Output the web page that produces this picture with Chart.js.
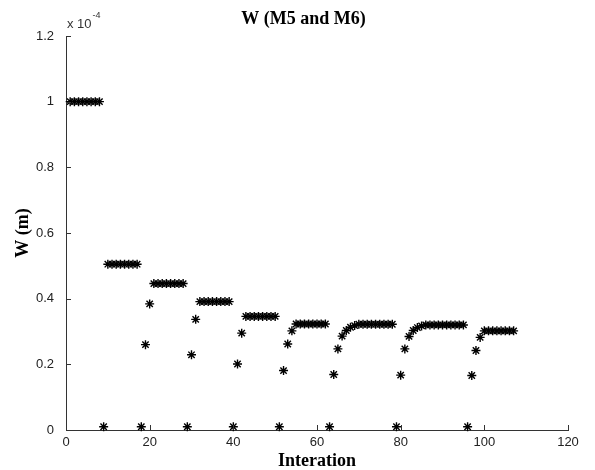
<!DOCTYPE html>
<html>
<head>
<meta charset="utf-8">
<title>W (M5 and M6)</title>
<script src="https://cdn.jsdelivr.net/npm/chart.js@4/dist/chart.umd.min.js"></script>
<style>
  html, body { margin: 0; padding: 0; background: #fff; }
  #wrap { width: 595px; height: 470px; }
</style>
</head>
<body>
<div id="wrap"><canvas id="wChart" width="595" height="470"></canvas></div>
<script>
// Iteration numbers (x) and W values in units of 1e-4 m (y)
const iterations = [
  1, 2, 3, 4, 5, 6, 7, 8, 9, 10,
  11, 12, 13, 14, 15, 16, 17, 18, 19, 20,
  21, 22, 23, 24, 25, 26, 27, 28, 29, 30,
  31, 32, 33, 34, 35, 36, 37, 38, 39, 40,
  41, 42, 43, 44, 45, 46, 47, 48, 49, 50,
  51, 52, 53, 54, 55, 56, 57, 58, 59, 60,
  61, 62, 63, 64, 65, 66, 67, 68, 69, 70,
  71, 72, 73, 74, 75, 76, 77, 78, 79, 80,
  81, 82, 83, 84, 85, 86, 87, 88, 89, 90,
  91, 92, 93, 94, 95, 96, 97, 98, 99, 100,
  101, 102, 103, 104, 105, 106, 107
];
const wValues = [
  1.0, 1.0, 1.0, 1.0, 1.0, 1.0, 1.0, 1.0, 0.01, 0.505,          // 1-10
  0.505, 0.505, 0.505, 0.505, 0.505, 0.505, 0.505, 0.01, 0.26, 0.384, // 11-20
  0.446, 0.446, 0.446, 0.446, 0.446, 0.446, 0.446, 0.446, 0.01, 0.229, // 21-30
  0.337, 0.391, 0.391, 0.391, 0.391, 0.391, 0.391, 0.391, 0.391, 0.01, // 31-40
  0.201, 0.295, 0.346, 0.346, 0.346, 0.346, 0.346, 0.346, 0.346, 0.346, // 41-50
  0.01, 0.181, 0.262, 0.302, 0.323, 0.323, 0.323, 0.323, 0.323, 0.323, // 51-60
  0.323, 0.323, 0.01, 0.169, 0.247, 0.286, 0.303, 0.313, 0.318, 0.322, // 61-70
  0.322, 0.322, 0.322, 0.322, 0.322, 0.322, 0.322, 0.322, 0.01, 0.167, // 71-80
  0.247, 0.285, 0.303, 0.312, 0.317, 0.320, 0.320, 0.320, 0.320, 0.320, // 81-90
  0.320, 0.320, 0.320, 0.320, 0.320, 0.01, 0.166, 0.242, 0.282, 0.302, // 91-100
  0.302, 0.302, 0.302, 0.302, 0.302, 0.302, 0.302                      // 101-107
];
const xTicks = [0, 20, 40, 60, 80, 100, 120];
const yTicks = [0, 0.2, 0.4, 0.6, 0.8, 1, 1.2];

const AXIS_COLOR = '#333';

// petits traits de graduation vers l'interieur (style MATLAB) + titre et facteur x 10^-4
const decorations = {
  id: 'decorations',
  afterDraw(chart) {
    const ctx = chart.ctx;
    const area = chart.chartArea;
    const xs = chart.scales.x;
    const ys = chart.scales.y;
    ctx.save();
    ctx.strokeStyle = AXIS_COLOR;
    ctx.lineWidth = 1;
    ctx.beginPath();
    xs.ticks.forEach((t, i) => {
      const px = Math.round(xs.getPixelForTick(i)) + 0.5;
      ctx.moveTo(px, area.bottom);
      ctx.lineTo(px, area.bottom - 5);
    });
    ys.ticks.forEach((t, i) => {
      const py = Math.round(ys.getPixelForTick(i)) + 0.5;
      ctx.moveTo(area.left, py);
      ctx.lineTo(area.left + 5, py);
    });
    ctx.stroke();

    // titre
    ctx.fillStyle = '#000';
    ctx.textAlign = 'center';
    ctx.textBaseline = 'alphabetic';
    ctx.font = 'bold 18px "Liberation Serif", "Times New Roman", serif';
    ctx.fillText('W (M5 and M6)', 303.5, 23.5);

    // facteur d'echelle
    ctx.fillStyle = '#333';
    ctx.textAlign = 'left';
    ctx.font = '13px "Liberation Sans", Arial, sans-serif';
    ctx.fillText('x 10', area.left + 1, 28);
    const w = ctx.measureText('x 10').width;
    ctx.font = '9px "Liberation Sans", Arial, sans-serif';
    ctx.fillText('-4', area.left + 2 + w, 18);
    ctx.restore();
  }
};

const tickText = v => String(Number(v.toFixed(1)));

new Chart(document.getElementById('wChart').getContext('2d'), {
  type: 'scatter',
  data: {
    datasets: [{
      label: 'W',
      data: iterations.map((it, i) => ({ x: it, y: wValues[i] })),
      pointStyle: 'star',
      pointRadius: 4.5,
      pointHoverRadius: 4.5,
      pointBorderWidth: 1.4,
      borderColor: '#000',
      backgroundColor: '#000',
      showLine: false,
      clip: false
    }]
  },
  options: {
    responsive: false,
    animation: false,
    events: [],
    layout: { padding: { top: 36, right: 27, bottom: 0, left: 0 } },
    plugins: {
      legend: { display: false },
      tooltip: { enabled: false },
      title: { display: false }
    },
    scales: {
      x: {
        type: 'linear',
        min: 0,
        max: 120,
        afterBuildTicks: scale => { scale.ticks = xTicks.map(v => ({ value: v })); },
        afterFit: scale => { scale.height = 40; },
        grid: { display: true, drawOnChartArea: false, drawTicks: false },
        border: { display: true, color: AXIS_COLOR, width: 1 },
        ticks: {
          padding: 5,
          color: '#222',
          font: { family: '"Liberation Sans", Arial, sans-serif', size: 13 },
          maxRotation: 0,
          callback: v => tickText(v)
        },
        title: {
          display: true,
          text: 'Interation',
          color: '#000',
          padding: { top: 0, bottom: 0 },
          font: { family: '"Liberation Serif", "Times New Roman", serif', size: 18, weight: 'bold', lineHeight: 1 }
        }
      },
      y: {
        type: 'linear',
        min: 0,
        max: 1.2,
        afterBuildTicks: scale => { scale.ticks = yTicks.map(v => ({ value: v })); },
        afterFit: scale => { scale.width = 66; },
        grid: { display: true, drawOnChartArea: false, drawTicks: false },
        border: { display: true, color: AXIS_COLOR, width: 1 },
        ticks: {
          padding: 12,
          color: '#222',
          font: { family: '"Liberation Sans", Arial, sans-serif', size: 13 },
          callback: v => tickText(v)
        },
        title: {
          display: true,
          text: 'W (m)',
          color: '#000',
          padding: { top: 14, bottom: 0 },
          font: { family: '"Liberation Serif", "Times New Roman", serif', size: 18, weight: 'bold', lineHeight: 1 }
        }
      }
    }
  },
  plugins: [decorations]
});
</script>
</body>
</html>
